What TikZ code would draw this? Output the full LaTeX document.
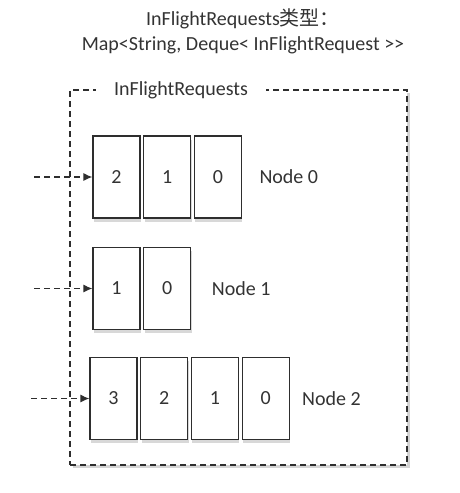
\documentclass[tikz,border=0pt]{standalone}
\usepackage{fontspec}
\setmainfont{Carlito}
\newfontfamily\cjkfont{Noto Sans CJK SC}
\usepackage{xcolor}
\usetikzlibrary{arrows.meta,positioning,shadows}
\definecolor{linec}{HTML}{2E2E2E}
\definecolor{textc}{HTML}{333333}
\tikzset{%
	slot/.style     = {draw=linec, fill=white, rectangle, line width=1.2pt, inner sep=0pt, minimum width=47pt, minimum height=82pt, text=textc, drop shadow={shadow xshift=1pt, shadow yshift=-3.5pt, opacity=0.3}}, % Request
	frame/.style    = {draw=linec, dash pattern=on 6pt off 4pt, line width=1.2pt, fill=white, rectangle, minimum width=337pt, minimum height=375pt, drop shadow={shadow xshift=2.5pt, shadow yshift=-2.5pt, opacity=0.35}}, % Map
	framelabel/.style = {fill=white, inner xsep=18pt, text=textc}, % Map name
	nodelabel/.style  = {text=textc, anchor=west}, % Node name
	feed/.style     = {draw=linec, dash pattern=on 6pt off 4pt, line width=1.2pt, -{Latex[length=9pt,width=8pt]}},
}

\begin{document}
\begin{tikzpicture}[x=1pt,y=1pt,node distance=2.5pt,font=\fontsize{20}{25}\selectfont]
		\useasboundingbox (0,0) rectangle (460,-493);
		\node [text=textc,align=center] (type) at (243,-31) {InFlightRequests{\cjkfont 类型：}\\Map<String, Deque< InFlightRequest {>}{>}};
		\node [frame] (map) at (238.5,-277.5) {};
		\node [framelabel] (mapname) at (181,-90) {InFlightRequests};
		
		\node [slot] (d0a) at (116.5,-177) {2};
		\node [slot] (d0b) [right=of d0a] {1};
		\node [slot] (d0c) [right=of d0b] {0};
		\node [nodelabel] (n0) [right=14pt of d0c] {Node 0};
		
		\node [slot] (d1a) at (116.5,-288.5) {1};
		\node [slot] (d1b) [right=of d1a] {0};
		\node [nodelabel] (n1) [right=17pt of d1b] {Node 1};
		
		\node [slot] (d2a) at (113.5,-398.5) {3};
		\node [slot] (d2b) [right=of d2a] {2};
		\node [slot] (d2c) [right=of d2b] {1};
		\node [slot] (d2d) [right=of d2c] {0};
		\node [nodelabel] (n2) [right=9pt of d2d] {Node 2};
		
		\coordinate [left=58pt of d0a.west] (in0);
		\coordinate [left=58pt of d1a.west] (in1);
		\coordinate [left=58pt of d2a.west] (in2);
		
		\draw[feed] (in0) -- (d0a);
		\draw[feed] (in1) -- (d1a);
		\draw[feed] (in2) -- (d2a);
	\end{tikzpicture}
\end{document}
